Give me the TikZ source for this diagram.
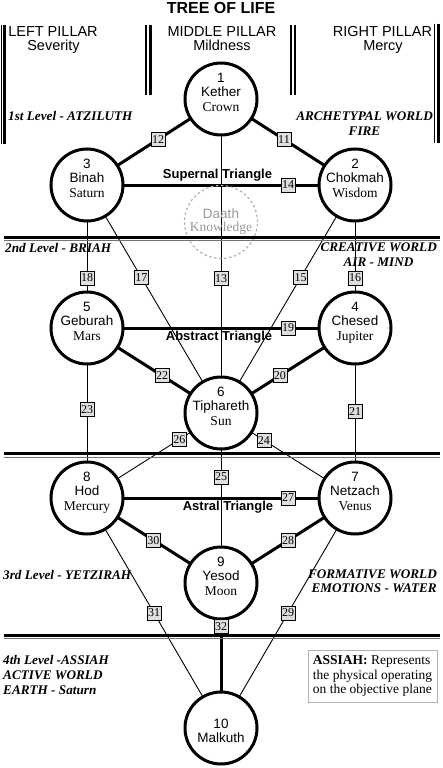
\documentclass[tikz,border=0pt]{standalone}
\usepackage{fontspec}
\setmainfont{Liberation Serif}
\setsansfont{Liberation Sans}
\usetikzlibrary{backgrounds}
\newcommand\sefnode[6]{%
  \node[sef] (#1) at (#2,#3) {};
  \node[numtxt] (#1-n) at (#2,#3-17) {#4};
  \node[numtxt] (#1-t) at (#2,#3-2.5) {#5};
  \node[subtxt] (#1-s) at (#2,#3+12.5) {#6};
}
\begin{document}
\begin{tikzpicture}[x=1pt,y=-1pt,
  sef/.style={circle,draw,line width=3pt,minimum size=72pt,fill=white,inner sep=0pt},
  numtxt/.style={anchor=base,inner sep=0pt,font=\sffamily\fontsize{13.5}{15}\selectfont},
  subtxt/.style={anchor=base,inner sep=0pt,font=\rmfamily\fontsize{13.5}{15}\selectfont},
  thk/.style={line width=3pt},
  thn/.style={line width=0.9pt},
  plbl/.style={draw,line width=0.6pt,fill=gray!25,inner sep=0.5pt,minimum width=14pt,minimum height=14pt,
    font=\rmfamily\fontsize{12}{12}\selectfont},
  pil/.style={anchor=base,inner sep=0pt,font=\sffamily\fontsize{14.5}{16}\selectfont},
  lvl/.style={inner sep=0pt,font=\rmfamily\bfseries\itshape\fontsize{13.2}{15}\selectfont},
  tri/.style={anchor=base,inner sep=0pt,font=\sffamily\bfseries\fontsize{13}{15}\selectfont},
  barthin/.style={line width=1.2pt},
  barthick/.style={line width=2.8pt},
  septhick/.style={line width=3pt},
  septhin/.style={line width=1pt,black!55}
]
\useasboundingbox (0,0) rectangle (442,768);

% sephiroth
\sefnode{k}{221}{99}{1}{Kether}{Crown}
\sefnode{b}{87}{185}{3}{Binah}{Saturn}
\sefnode{c}{355}{185}{2}{Chokmah}{Wisdom}
\sefnode{g}{87}{328}{5}{Geburah}{Mars}
\sefnode{ch}{355}{328}{4}{Chesed}{Jupiter}
\sefnode{t}{221}{413}{6}{Tiphareth}{Sun}
\sefnode{h}{87}{498}{8}{Hod}{Mercury}
\sefnode{n}{355}{498}{7}{Netzach}{Venus}
\sefnode{y}{221}{583}{9}{Yesod}{Moon}
\node[sef] (m) at (221,728) {};
\node[numtxt] (m-n) at (221,728) {10};
\node[numtxt] (m-t) at (221,742) {Malkuth};

% Daath
\node[circle,draw=gray!60,line width=1.2pt,dash pattern=on 2.5pt off 2.5pt,minimum size=73pt,inner sep=0pt] (d) at (221,222) {};
\node[numtxt,text=gray!80] (d-t) at (221,218) {Daath};
\node[subtxt,text=gray!80] (d-s) at (221,231) {Knowledge};

% connectors
\begin{scope}[on background layer]
\fill[white] (0,0) rectangle (442,768);
\draw[thk] (k.center) -- (b.center);
\draw[thk] (k.center) -- (c.center);
\draw[thk] (b.center) -- (c.center);
\draw[thn] (k.center) -- (t.center);
\draw[thn] (b.center) -- (g.center);
\draw[thn] (b.center) -- (t.center);
\draw[thn] (c.center) -- (t.center);
\draw[thn] (c.center) -- (ch.center);
\draw[thk] (g.center) -- (ch.center);
\draw[thk] (g.center) -- (t.center);
\draw[thk] (ch.center) -- (t.center);
\draw[thn] (g.center) -- (h.center);
\draw[thn] (ch.center) -- (n.center);
\draw[thn] (t.center) -- (h.center);
\draw[thn] (t.center) -- (n.center);
\draw[thn] (t.center) -- (y.center);
\draw[thk] (h.center) -- (n.center);
\draw[thk] (h.center) -- (y.center);
\draw[thk] (n.center) -- (y.center);
\draw[thn] (h.center) -- (m.center);
\draw[thn] (n.center) -- (m.center);
\draw[thk] (y.center) -- (m.center);
\end{scope}

% path labels
\path (k.center) -- node[plbl,pos=.47] (p12) {12} (b.center);
\path (k.center) -- node[plbl,pos=.47] (p11) {11} (c.center);
\path (b.center) -- node[plbl,pos=.75] (p14) {14} (c.center);
\path (k.center) -- node[plbl,pos=.572] (p13) {13} (t.center);
\path (b.center) -- node[plbl,pos=.65] (p18) {18} (g.center);
\path (b.center) -- node[plbl,pos=.405] (p17) {17} (t.center);
\path (c.center) -- node[plbl,pos=.405] (p15) {15} (t.center);
\path (c.center) -- node[plbl,pos=.65] (p16) {16} (ch.center);
\path (g.center) -- node[plbl,pos=.75] (p19) {19} (ch.center);
\path (g.center) -- node[plbl,pos=.56] (p22) {22} (t.center);
\path (ch.center) -- node[plbl,pos=.56] (p20) {20} (t.center);
\path (g.center) -- node[plbl,pos=.48] (p23) {23} (h.center);
\path (ch.center) -- node[plbl,pos=.49] (p21) {21} (n.center);
\path (t.center) -- node[plbl,pos=.31] (p26) {26} (h.center);
\path (t.center) -- node[plbl,pos=.32] (p24) {24} (n.center);
\path (t.center) -- node[plbl,pos=.376] (p25) {25} (y.center);
\path (h.center) -- node[plbl,pos=.75] (p27) {27} (n.center);
\path (h.center) -- node[plbl,pos=.495] (p30) {30} (y.center);
\path (n.center) -- node[plbl,pos=.5] (p28) {28} (y.center);
\path (h.center) -- node[plbl,pos=.5] (p31) {31} (m.center);
\path (n.center) -- node[plbl,pos=.5] (p29) {29} (m.center);
\path (y.center) -- node[plbl,pos=.3] (p32) {32} (m.center);

% triangle names
\node[tri] (st) at (217.5,178.3) {Supernal Triangle};
\node[tri] (abt) at (219,340.7) {Abstract Triangle};
\node[tri] (ast) at (228,510) {Astral Triangle};

% title and pillars
\node[anchor=base,inner sep=0pt,font=\sffamily\bfseries\fontsize{16}{18}\selectfont] (title) at (221,13.5) {TREE OF LIFE};
\node[pil] (lp) at (53,36.5) {LEFT PILLAR};
\node[pil] (lps) at (53.5,51) {Severity};
\node[pil] (mp) at (222,36.5) {MIDDLE PILLAR};
\node[pil] (mps) at (222,51) {Mildness};
\node[pil] (rp) at (382.5,36.5) {RIGHT PILLAR};
\node[pil] (rps) at (383,51) {Mercy};

% pillar bars
\draw[barthin] (1.5,25) -- (1.5,144);
\draw[barthick] (4.8,25) -- (4.8,144);
\draw[barthin] (146,25) -- (146,95);
\draw[barthick] (150.3,25) -- (150.3,95);
\draw[barthin] (291,25) -- (291,95);
\draw[barthick] (295,25) -- (295,95);
\draw[barthin] (434.8,24) -- (434.8,143);
\draw[barthick] (438.3,24) -- (438.3,143);

% level separators
\draw[septhick] (4,237) -- (440,237);
\draw[septhin] (4,240.5) -- (440,240.5);
\draw[septhick] (4,453.5) -- (440,453.5);
\draw[septhin] (4,457) -- (440,457);
\draw[septhick] (4,635) -- (440,635);
\draw[septhin] (4,638.5) -- (440,638.5);

% level texts
\node[lvl,anchor=base west] (l1) at (8,120) {1st Level - ATZILUTH};
\node[lvl,anchor=base east] (w1) at (433,120) {ARCHETYPAL WORLD};
\node[lvl,anchor=base] (w1b) at (364.5,135) {FIRE};
\node[lvl,anchor=base west] (l2) at (5,252.5) {2nd Level - BRIAH};
\node[lvl,anchor=base east] (w2) at (437,251.7) {CREATIVE WORLD};
\node[lvl,anchor=base] (w2b) at (378.5,266.5) {AIR - MIND};
\node[lvl,anchor=base west] (l3) at (3,579) {3rd Level - YETZIRAH};
\node[lvl,anchor=base east] (w3) at (437,578) {FORMATIVE WORLD};
\node[lvl,anchor=base east] (w3b) at (437,592.5) {EMOTIONS - WATER};
\node[lvl,anchor=base west] (l4) at (3,664) {4th Level -ASSIAH};
\node[lvl,anchor=base west] (l4b) at (3,679) {ACTIVE WORLD};
\node[lvl,anchor=base west] (l4c) at (3,694) {EARTH - Saturn};

% ASSIAH note
\node[draw=gray!60,line width=1pt,align=left,minimum width=129pt,minimum height=52pt,inner xsep=4pt,
  font=\rmfamily\fontsize{13.5}{14.5}\selectfont] (note) at (372.5,676)
  {\textbf{ASSIAH:} Represents\\the physical operating\\on the objective plane};
\end{tikzpicture}
\end{document}
